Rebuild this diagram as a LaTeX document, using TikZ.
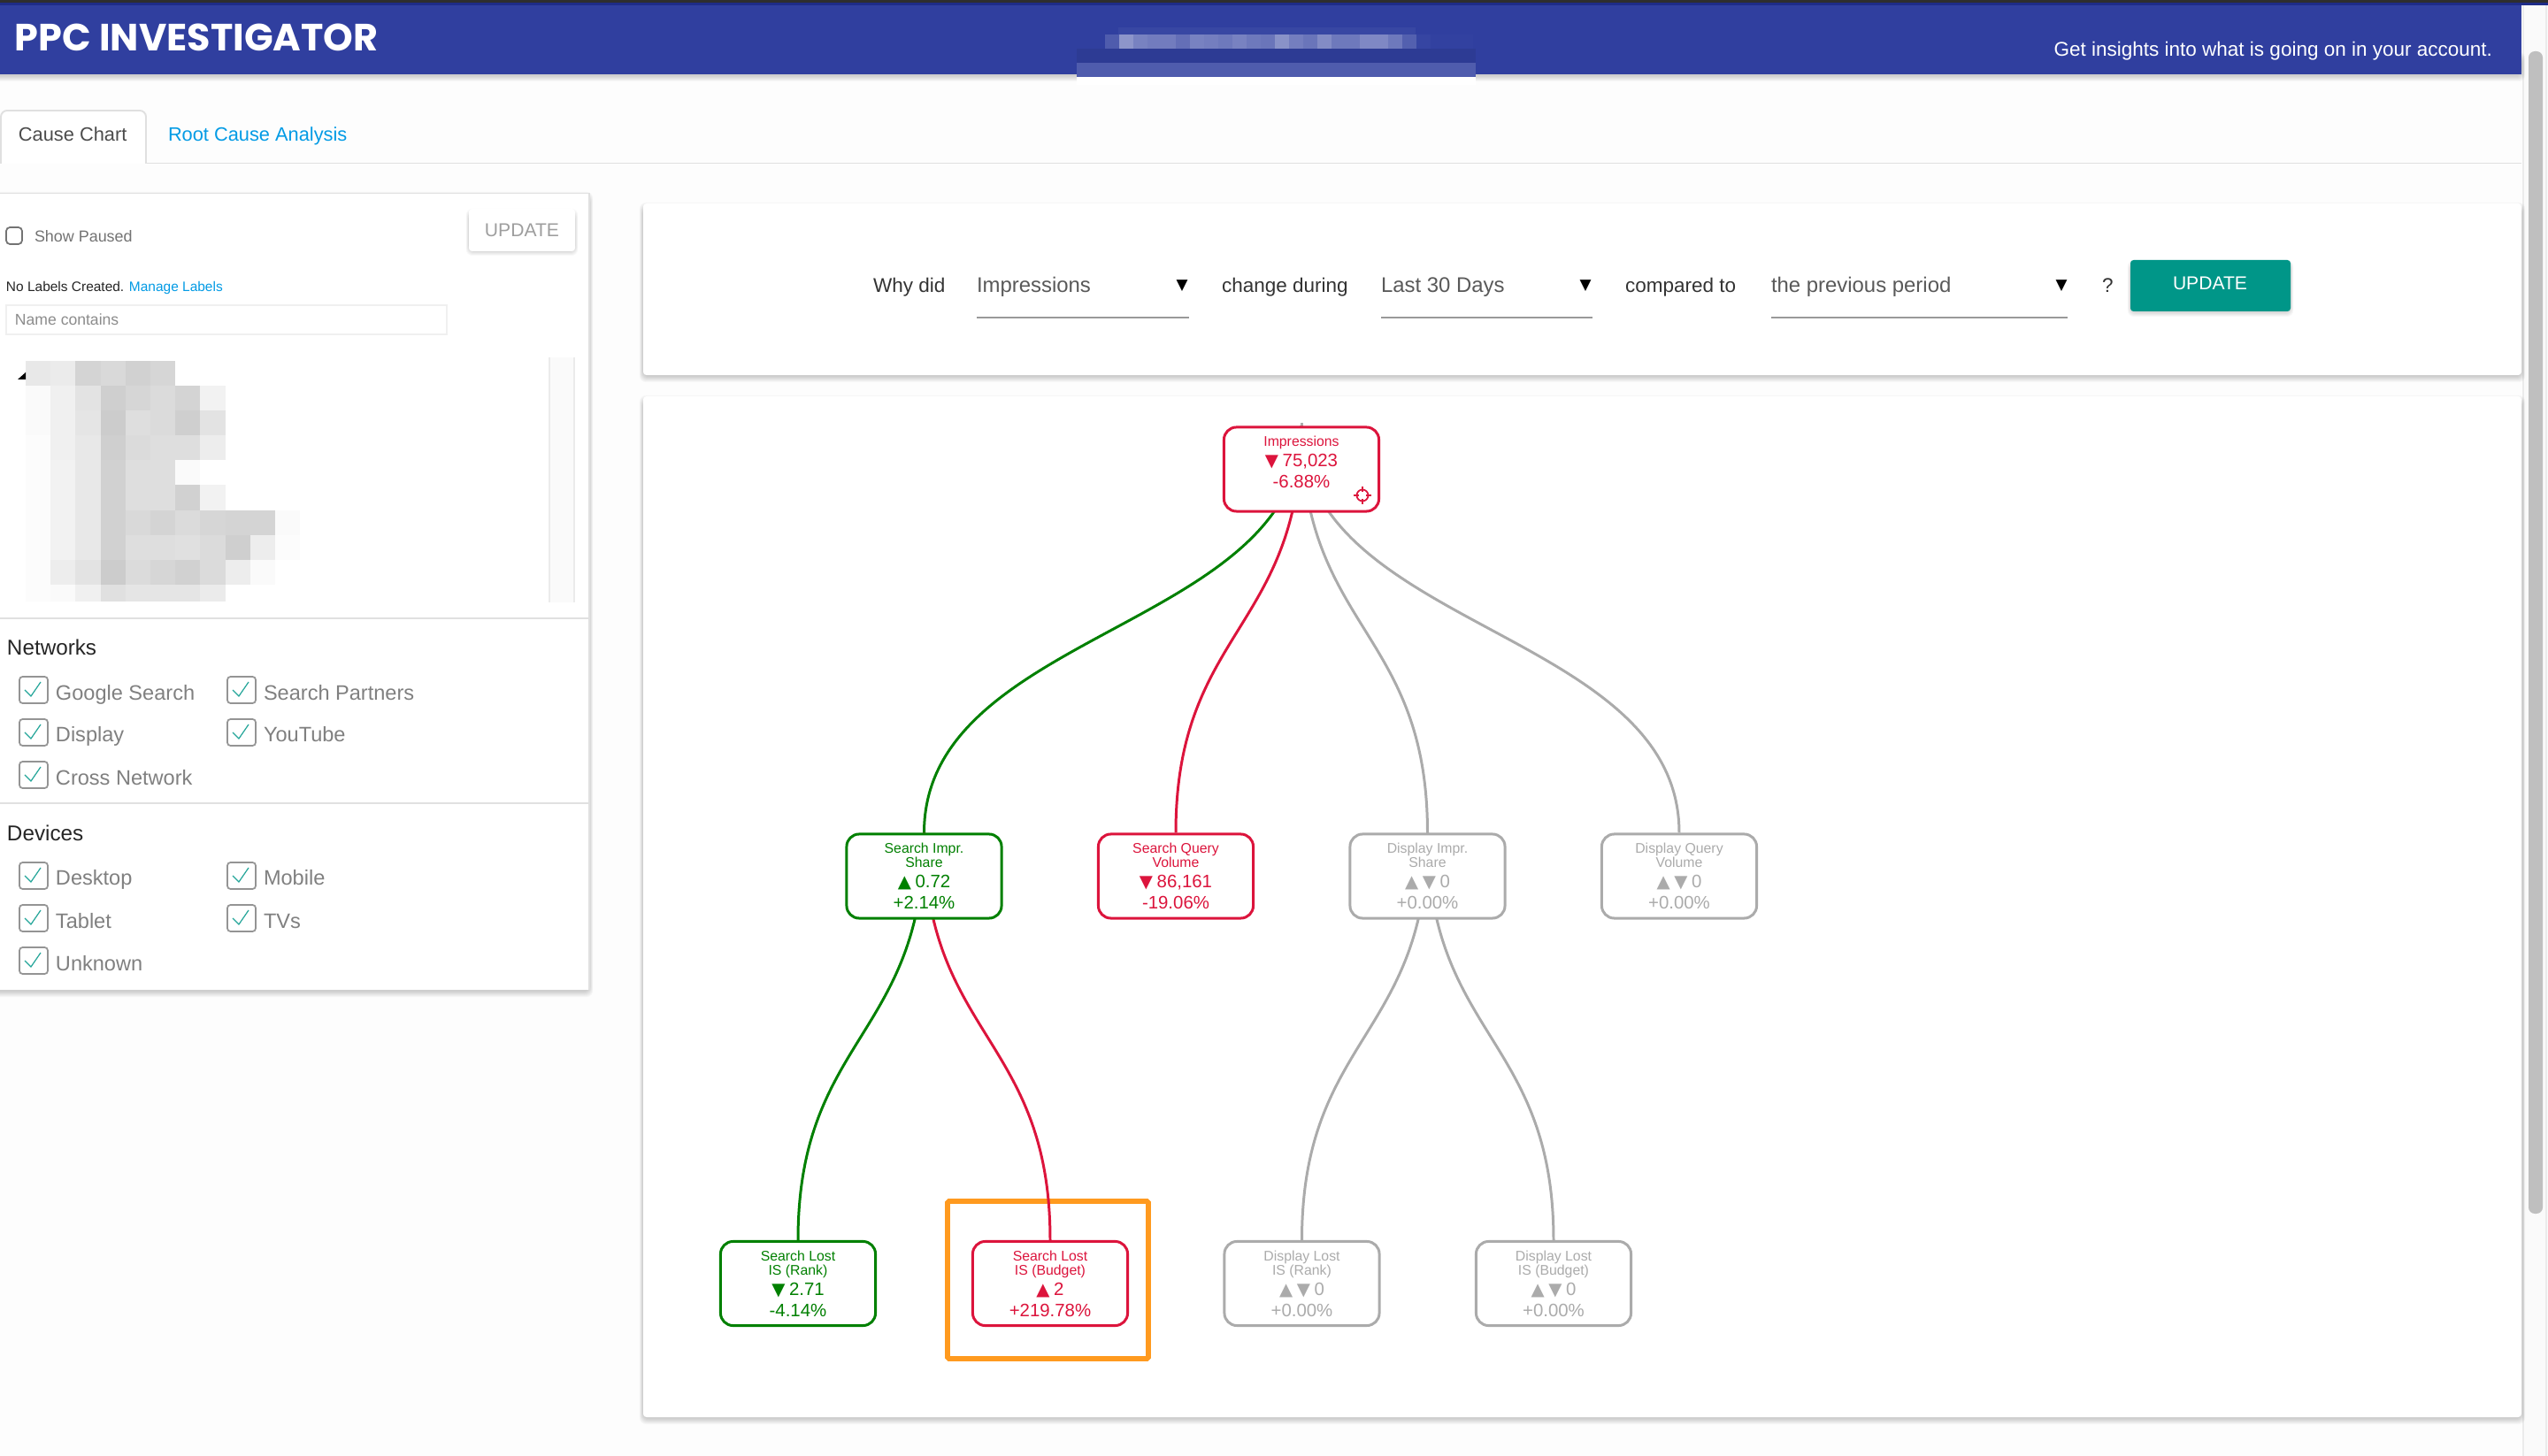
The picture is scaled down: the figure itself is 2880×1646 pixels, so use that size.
\documentclass[tikz,border=0pt]{standalone}
\usepackage{fontspec}
\usepackage{tikz}
\usetikzlibrary{calc}
\setmainfont{Liberation Sans}
\newfontfamily\titlefont{Poppins}
\newfontfamily\glyphfont{DejaVu Sans}

\definecolor{pagewhite}{HTML}{FDFDFD}
\definecolor{barblue}{HTML}{303F9F}
\definecolor{barnavy}{HTML}{1E2C88}
\definecolor{okgreen}{HTML}{008000}
\definecolor{badred}{HTML}{DC143C}
\definecolor{flatgray}{HTML}{ABABAB}
\definecolor{teal}{HTML}{009688}
\definecolor{tickteal}{HTML}{26A69A}
\definecolor{linkblue}{HTML}{039BE5}
\definecolor{focusorange}{HTML}{FF9A1F}
\definecolor{rulegray}{HTML}{E0E0E0}

\pgfdeclarelayer{boxes}
\pgfsetlayers{main,boxes}

\newcommand{\softdrop}[4]{
  \foreach \s in {1,...,7}
    \fill[black,opacity=.028,rounded corners=2pt] ({#1-.6*\s},{#2+6-\s}) rectangle ({#3+.6*\s},{#4+1+\s});
}
\newcommand{\up}{{\glyphfont\fontsize{5.6}{5}\selectfont ▲}}
\newcommand{\down}{{\glyphfont\fontsize{5.6}{5}\selectfont ▼}}
\newcommand{\gap}{\hspace{1.3pt}}
\newcommand{\evenlines}{\lineskiplimit=-100pt\relax}

\tikzset{
  plain/.style={inner sep=0pt,outer sep=0pt},
  tabtext/.style={plain,anchor=base west,font=\fontsize{6.2}{7}\selectfont},
  sidelabel/.style={plain,anchor=base west,text=black!50,font=\fontsize{6.7}{8}\selectfont},
  heading/.style={plain,anchor=base west,text=black!85,font=\fontsize{6.9}{8}\selectfont},
  asktext/.style={plain,anchor=base west,text=black!80,font=\fontsize{6.4}{8}\selectfont},
  picktext/.style={plain,anchor=base west,text=black!65,font=\fontsize{6.8}{8}\selectfont},
  pickarrow/.style={plain,font=\glyphfont\fontsize{4.8}{5}\selectfont},
  tickframe/.style={draw=black!42,line width=.5pt,rounded corners=1pt},
  tickmark/.style={draw=tickteal,line width=.35pt},
  metric/.style={draw=#1,text=#1,fill=white,line width=.85pt,rounded corners=4pt,
    minimum width=1.75cm,minimum height=.95cm,inner sep=0pt,align=center,
    font=\fontsize{4.5}{4.55}\selectfont\evenlines},
  treelink/.style={draw=#1,line width=.85pt},
}

\newcommand{\vals}[1]{{\fontsize{5.8}{4.55}\selectfont #1}}

\begin{document}
\begin{tikzpicture}[x=0.01cm,y=-0.01cm]
\useasboundingbox (0,0) rectangle (2880,1646);
\fill[pagewhite] (0,0) rectangle (2880,1646);

%scrollbar
\fill[black!2] (2851,0) rectangle (2880,1646);
\draw[black!8,line width=.5pt] (2852,6) -- (2852,1646);
\draw[black!8,line width=.5pt] (2878,6) -- (2878,1646);
\fill[black!25,rounded corners=2pt] (2858,58) rectangle (2874,1372);

%header
\softdrop{-10}{60}{2850}{84}
\fill[barblue] (0,0) rectangle (2850,84);
\fill[barnavy] (0,3) rectangle (2880,6);
\fill[black!82] (0,0) rectangle (2880,3);
\node[plain,anchor=base west,text=white,font=\titlefont\bfseries\fontsize{12.2}{14}\selectfont] (title) at (17,58) {PPC INVESTIGATOR};
\node[plain,anchor=base east,text=white,font=\fontsize{6.4}{8}\selectfont] (tagline) at (2817,64) {Get insights into what is going on in your account.};

%blurred strip in the header
\fill[white] (1217,84) rectangle (1668,96);
\fill[barblue!93!black] (1217,55) rectangle (1668,71);
\fill[barblue!85!white] (1217,71) rectangle (1668,87);
\fill[barblue!96!white] (1264,31) rectangle (1600,39);
\foreach \w [count=\i from 0] in {0,0,15,45,35,32,32,25,35,33,30,35,30,28,43,33,28,40,30,30,38,38,30,17,3,1,1,1}
  \fill[white!\w!barblue] ({1217+16*\i},39) rectangle ({1233+16*\i},55);

%tabs
\draw[rulegray,line width=.55pt] (0,184.5) -- (2850,184.5);
\filldraw[draw=rulegray,fill=white,line width=.55pt,rounded corners=2pt] (1,185) -- (1,125) -- (165,125) -- (165,185);
\node[tabtext,text=black!70] (tabchart) at (21,160) {Cause Chart};
\node[tabtext,text=linkblue] (tabroot) at (190,160) {Root Cause Analysis};

%side panel
\softdrop{-10}{218}{666}{1119}
\fill[white] (0,218) rectangle (666,1119);
\draw[rulegray,line width=.5pt] (0,218.5) -- (666,218.5) -- (666,1119);
\draw[black!55,line width=.5pt,rounded corners=1.2pt] (7,257) rectangle (25,276);
\node[plain,anchor=base west,text=black!55,font=\fontsize{5.1}{7}\selectfont] (paused) at (39,274) {Show Paused};
\softdrop{531}{237}{649}{281}
\fill[white,rounded corners=1pt] (530,236) rectangle (650,284);
\node[plain,anchor=base,text=black!38,font=\fontsize{6}{8}\selectfont] (sideupdate) at (590,268) {UPDATE};
\node[plain,anchor=base west,text=black!85,font=\fontsize{4.4}{6}\selectfont] (nolabels) at (7,330) {No Labels Created.};
\node[plain,anchor=base west,text=linkblue,font=\fontsize{4.4}{6}\selectfont] (manage) at (146,330) {Manage Labels};
\draw[black!6,line width=.55pt] (7,345) rectangle (505,378);
\node[plain,anchor=base west,text=black!45,font=\fontsize{5}{6}\selectfont] (namebox) at (17,368) {Name contains};

%blurred account tree
\foreach \vlist [count=\r from 0] in {
  {9,8,17,15,18,16},
  {2,6,11,19,16,14,17,5},
  {2,6,10,20,13,14,19,11},
  {1,6,9,19,14,13,13,7},
  {1,5,9,18,13,13,2},
  {1,5,9,18,13,13,18,5},
  {1,5,9,18,15,17,14,16,17,17,2},
  {1,5,9,18,13,13,12,14,19,7,1},
  {1,7,11,20,14,16,18,14,7,2},
  {1,2,6,12,10,10,10,8}}
  \foreach \v [count=\c from 0] in \vlist
    \fill[black!\v] ({29+28.2*\c},{408+28.1*\r}) rectangle ({57.2+28.2*\c},{436.1+28.1*\r});
\fill[white] (0,680.5) rectangle (660,699);
\fill[black] (20,429) -- (29,429) -- (29,421) -- cycle;
\fill[black!2] (620,404) rectangle (650,681);
\draw[black!8,line width=.4pt] (621,404) -- (621,681);
\draw[black!8,line width=.4pt] (649,404) -- (649,681);

%filters
\draw[rulegray,line width=.5pt] (0,699) -- (666,699);
\draw[rulegray,line width=.5pt] (0,908) -- (666,908);
\node[heading] (networks) at (8,741) {Networks};
\node[heading] (devices) at (8,951) {Devices};
\foreach \x/\y/\lab [count=\i] in {
  38/780/Google Search, 273/780/Search Partners,
  38/828/Display, 273/828/YouTube,
  38/876/Cross Network,
  38/990/Desktop, 273/990/Mobile,
  38/1038/Tablet, 273/1038/TVs,
  38/1086/Unknown}
{
  \draw[tickframe] ({\x-16},{\y-15}) rectangle ({\x+16},{\y+15});
  \draw[tickmark] ({\x-10},\y) -- ({\x-3},{\y+7}) -- ({\x+8},{\y-9});
  \node[sidelabel] (filter\i) at ({\x+25},{\y+11}) {\lab};
}

%question panel
\softdrop{727}{230}{2850}{424}
\fill[white,rounded corners=1pt] (727,230) rectangle (2850,424);
\node[asktext] (whydid) at (987,330.5) {Why did};
\node[picktext] (metricpick) at (1104,330.5) {Impressions};
\node[pickarrow] (metricarrow) at (1336,323) {▼};
\node[asktext] (during) at (1381,330.5) {change during};
\node[picktext] (datepick) at (1561,330.5) {Last 30 Days};
\node[pickarrow] (datearrow) at (1792,323) {▼};
\node[asktext] (compared) at (1837,330.5) {compared to};
\node[picktext] (periodpick) at (2002,330.5) {the previous period};
\node[pickarrow] (periodarrow) at (2330,323) {▼};
\node[asktext] (mark) at (2376,330.5) {?};
\foreach \a/\b in {1104/1344,1561/1800,2002/2337}
  \draw[black!40,line width=.55pt] (\a,359) -- (\b,359);
\softdrop{2409}{295}{2588}{350}
\fill[teal,rounded corners=1pt] (2408,294) rectangle (2589,352);
\node[plain,anchor=base,text=white,font=\fontsize{6}{8}\selectfont] (askupdate) at (2498,328) {UPDATE};

%chart panel
\softdrop{727}{448}{2850}{1602}
\fill[white,rounded corners=1pt] (727,448) rectangle (2850,1602);
\draw[focusorange,line width=1.7pt,rounded corners=.5pt] (1071,1358) rectangle (1298,1536);

%nodes
\begin{pgfonlayer}{boxes}
\node[metric=badred] (root) at (1471,530.5) {Impressions\\[2pt]\vals{\down\gap 75,023}\\[2.3pt]\vals{-6.88\%}\\\mbox{}};
\node[metric=okgreen] (searchshare) at (1044.5,990.5) {Search Impr.\\Share\\[2pt]\vals{\up\gap 0.72}\\[2.3pt]\vals{+2.14\%}};
\node[metric=badred] (searchvolume) at (1329,990.5) {Search Query\\Volume\\[2pt]\vals{\down\gap 86,161}\\[2.3pt]\vals{-19.06\%}};
\node[metric=flatgray] (displayshare) at (1613.5,990.5) {Display Impr.\\Share\\[2pt]\vals{\up\gap\down\gap 0}\\[2.3pt]\vals{+0.00\%}};
\node[metric=flatgray] (displayvolume) at (1898,990.5) {Display Query\\Volume\\[2pt]\vals{\up\gap\down\gap 0}\\[2.3pt]\vals{+0.00\%}};
\node[metric=okgreen] (searchrank) at (902,1451) {Search Lost\\IS (Rank)\\[2pt]\vals{\down\gap 2.71}\\[2.3pt]\vals{-4.14\%}};
\node[metric=badred] (searchbudget) at (1187,1451) {Search Lost\\IS (Budget)\\[2pt]\vals{\up\gap 2}\\[2.3pt]\vals{+219.78\%}};
\node[metric=flatgray] (displayrank) at (1471.5,1451) {Display Lost\\IS (Rank)\\[2pt]\vals{\up\gap\down\gap 0}\\[2.3pt]\vals{+0.00\%}};
\node[metric=flatgray] (displaybudget) at (1756,1451) {Display Lost\\IS (Budget)\\[2pt]\vals{\up\gap\down\gap 0}\\[2.3pt]\vals{+0.00\%}};
%crosshair on the root
\draw[badred,line width=.5pt] (1540,560) circle (6.5);
\foreach \dx/\dy in {-10/0,10/0,0/-10,0/10}
  \draw[badred,line width=.8pt] ({1540+\dx},{560+\dy}) -- ({1540+\dx*.4},{560+\dy*.4});
\end{pgfonlayer}

%links
\coordinate (stub) at (1471,478);
\draw[treelink=flatgray] (stub) -- (root.north);
\foreach \from/\to/\col in {
  root/searchshare/okgreen, root/searchvolume/badred,
  root/displayshare/flatgray, root/displayvolume/flatgray,
  searchshare/searchrank/okgreen, searchshare/searchbudget/badred,
  displayshare/displayrank/flatgray, displayshare/displaybudget/flatgray}
  \draw[treelink=\col] (\from.north) .. controls ($(\from.north)!.5!(\from.north |- \to.north)$) and ($(\to.north)!.5!(\to.north |- \from.north)$) .. (\to.north);
\end{tikzpicture}
\end{document}
